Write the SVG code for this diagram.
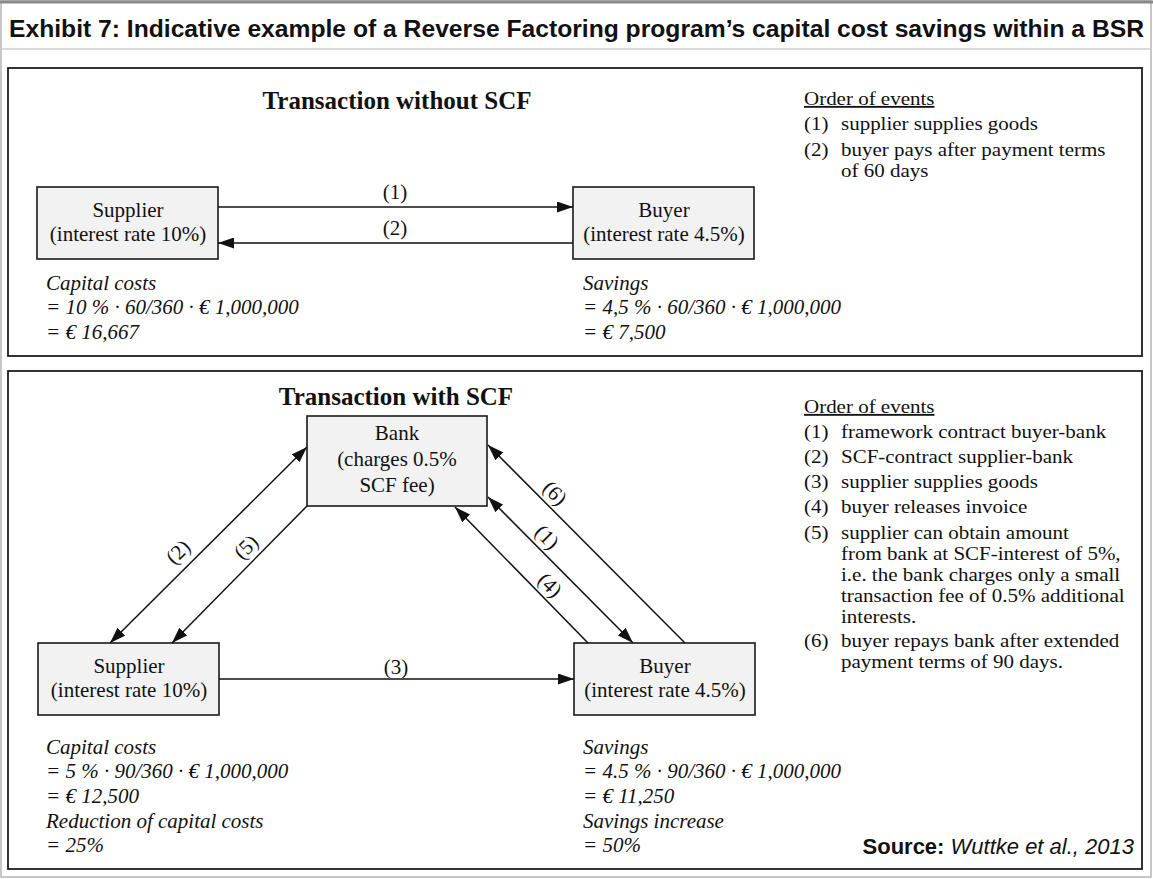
<svg xmlns="http://www.w3.org/2000/svg" width="1153" height="879" viewBox="0 0 1153 879">
  <defs>
    <style>
      .frame { fill: #ffffff; stroke: #b4b4b4; stroke-width: 1.5; }
      .panel { fill: none; stroke: #1e1e1e; stroke-width: 1.8; }
      .node { fill: #f2f2f2; stroke: #1a1a1a; stroke-width: 1.6; }
      .serif { font-family: "Liberation Serif", "Times New Roman", serif; font-size: 21px; fill: #111; }
      .ntext { text-anchor: middle; }
      .ev { font-family: "Liberation Serif", "Times New Roman", serif; font-size: 18.5px; fill: #111; }
      .ital { font-family: "Liberation Serif", "Times New Roman", serif; font-style: italic; font-size: 21px; fill: #111; }
      .ptitle { font-family: "Liberation Serif", "Times New Roman", serif; font-weight: bold; font-size: 25px; fill: #111; text-anchor: middle; }
      .conn { stroke: #111; stroke-width: 1.5; fill: none; }
      .lbl { font-family: "Liberation Serif", "Times New Roman", serif; font-size: 21px; fill: #111; text-anchor: middle; }
      .head { font-family: "Liberation Sans", Arial, sans-serif; font-weight: bold; font-size: 23px; fill: #111; }
      .src { font-family: "Liberation Sans", Arial, sans-serif; font-size: 22px; fill: #111; }
    </style>
    <marker id="ah" viewBox="0 0 16 11" refX="16" refY="5.5" markerWidth="16" markerHeight="11" markerUnits="userSpaceOnUse" orient="auto-start-reverse">
      <path d="M0,0 L16,5.5 L0,11 z" fill="#111"/>
    </marker>
  </defs>

  <!-- outer frame and heading -->
  <rect class="frame" x="1" y="1" width="1150" height="876"/>
  <line x1="0" y1="2" x2="1153" y2="2" stroke="#8a8a8a" stroke-width="3"/>
  <line x1="1" y1="49" x2="1151" y2="49" stroke="#cfcfcf" stroke-width="1.5"/>
  <text class="head" x="9" y="37" textLength="1135" lengthAdjust="spacingAndGlyphs">Exhibit 7: Indicative example of a Reverse Factoring program’s capital cost savings within a BSR</text>

  <!-- upper panel: transaction without SCF -->
  <rect class="panel" x="8" y="68" width="1134" height="288"/>
  <text class="ptitle" x="397" y="109">Transaction without SCF</text>

  <!-- event lists use a slightly widened serif face -->
  <g id="events-without">
    <g transform="translate(804,0) scale(1.135,1)">
      <text class="ev" x="0" y="105" text-decoration="underline">Order of events</text>
      <text class="ev" x="0" y="130">(1)</text>
      <text class="ev" x="0" y="156">(2)</text>
    </g>
    <g transform="translate(841,0) scale(1.135,1)">
      <text class="ev" x="0" y="130">supplier supplies goods</text>
      <text class="ev" x="0" y="156">buyer pays after payment terms</text>
      <text class="ev" x="0" y="177">of 60 days</text>
    </g>
  </g>

  <g id="supplier-without">
    <rect class="node" x="37" y="187" width="181" height="72"/>
    <text class="serif ntext" x="128" y="217">Supplier</text>
    <text class="serif ntext" x="128" y="241">(interest rate 10%)</text>
  </g>

  <g id="buyer-without">
    <rect class="node" x="573" y="187" width="181" height="72"/>
    <text class="serif ntext" x="664" y="217">Buyer</text>
    <text class="serif ntext" x="664" y="241">(interest rate 4.5%)</text>
  </g>

  <g id="costs-without">
    <text class="ital" x="46" y="290">Capital costs</text>
    <text class="ital" x="46" y="314">= 10 % · 60/360 · € 1,000,000</text>
    <text class="ital" x="46" y="339">= € 16,667</text>
  </g>
  <g id="savings-without">
    <text class="ital" x="583" y="290">Savings</text>
    <text class="ital" x="583" y="314">= 4,5 % · 60/360 · € 1,000,000</text>
    <text class="ital" x="583" y="339">= € 7,500</text>
  </g>

  <!-- lower panel: transaction with SCF -->
  <rect class="panel" x="8" y="371" width="1134" height="498"/>
  <text class="ptitle" x="396" y="405">Transaction with SCF</text>

  <g id="events-with">
    <g transform="translate(804,0) scale(1.135,1)">
      <text class="ev" x="0" y="413" text-decoration="underline">Order of events</text>
      <text class="ev" x="0" y="438">(1)</text>
      <text class="ev" x="0" y="463">(2)</text>
      <text class="ev" x="0" y="488">(3)</text>
      <text class="ev" x="0" y="513">(4)</text>
      <text class="ev" x="0" y="539">(5)</text>
      <text class="ev" x="0" y="647">(6)</text>
    </g>
    <g transform="translate(841,0) scale(1.135,1)">
      <text class="ev" x="0" y="438">framework contract buyer-bank</text>
      <text class="ev" x="0" y="463">SCF-contract supplier-bank</text>
      <text class="ev" x="0" y="488">supplier supplies goods</text>
      <text class="ev" x="0" y="513">buyer releases invoice</text>
      <text class="ev" x="0" y="539">supplier can obtain amount</text>
      <text class="ev" x="0" y="560">from bank at SCF-interest of 5%,</text>
      <text class="ev" x="0" y="581">i.e. the bank charges only a small</text>
      <text class="ev" x="0" y="602">transaction fee of 0.5% additional</text>
      <text class="ev" x="0" y="623">interests.</text>
      <text class="ev" x="0" y="647">buyer repays bank after extended</text>
      <text class="ev" x="0" y="668">payment terms of 90 days.</text>
    </g>
  </g>

  <g id="bank">
    <rect class="node" x="307" y="416" width="180" height="90"/>
    <text class="serif ntext" x="397" y="440">Bank</text>
    <text class="serif ntext" x="397" y="466">(charges 0.5%</text>
    <text class="serif ntext" x="397" y="492">SCF fee)</text>
  </g>

  <g id="supplier-with">
    <rect class="node" x="38" y="643" width="181" height="72"/>
    <text class="serif ntext" x="129" y="673">Supplier</text>
    <text class="serif ntext" x="129" y="697">(interest rate 10%)</text>
  </g>

  <g id="buyer-with">
    <rect class="node" x="574" y="643" width="181" height="72"/>
    <text class="serif ntext" x="665" y="673">Buyer</text>
    <text class="serif ntext" x="665" y="697">(interest rate 4.5%)</text>
  </g>

  <g id="costs-with">
    <text class="ital" x="46" y="754">Capital costs</text>
    <text class="ital" x="46" y="778">= 5 % · 90/360 · € 1,000,000</text>
    <text class="ital" x="46" y="803">= € 12,500</text>
    <text class="ital" x="46" y="828">Reduction of capital costs</text>
    <text class="ital" x="46" y="852">= 25%</text>
  </g>
  <g id="savings-with">
    <text class="ital" x="583" y="754">Savings</text>
    <text class="ital" x="583" y="778">= 4.5 % · 90/360 · € 1,000,000</text>
    <text class="ital" x="583" y="803">= € 11,250</text>
    <text class="ital" x="583" y="828">Savings increase</text>
    <text class="ital" x="583" y="852">= 50%</text>
  </g>

  <g id="source">
    <text class="src" x="1134" y="854" text-anchor="end"><tspan font-weight="bold">Source:</tspan> <tspan font-style="italic">Wuttke et al., 2013</tspan></text>
  </g>

  <!-- connectors -->
  <g id="connectors">
    <line class="conn" x1="218" y1="207" x2="573" y2="207" marker-end="url(#ah)"/>
    <line class="conn" x1="573" y1="243" x2="218" y2="243" marker-end="url(#ah)"/>

    <line class="conn" x1="219" y1="679" x2="574" y2="679" marker-end="url(#ah)"/>

    <line class="conn" x1="110" y1="643" x2="307" y2="447" marker-start="url(#ah)" marker-end="url(#ah)"/>
    <line class="conn" x1="307" y1="506" x2="172" y2="643" marker-end="url(#ah)"/>
    <line class="conn" x1="588" y1="643" x2="455" y2="507" marker-end="url(#ah)"/>
    <line class="conn" x1="488" y1="497" x2="633" y2="643" marker-start="url(#ah)" marker-end="url(#ah)"/>
    <line class="conn" x1="685" y1="643" x2="488" y2="445" marker-end="url(#ah)"/>

    <text class="lbl" x="395" y="199">(1)</text>
    <text class="lbl" x="395" y="235">(2)</text>
    <text class="lbl" x="396" y="674">(3)</text>

    <text class="lbl" transform="translate(178,552) rotate(-45)" y="7">(2)</text>
    <text class="lbl" transform="translate(246,547) rotate(-45)" y="7">(5)</text>
    <text class="lbl" transform="translate(555,493) rotate(45)" y="7">(6)</text>
    <text class="lbl" transform="translate(547,537) rotate(45)" y="7">(1)</text>
    <text class="lbl" transform="translate(550,585) rotate(45)" y="7">(4)</text>
  </g>
</svg>
